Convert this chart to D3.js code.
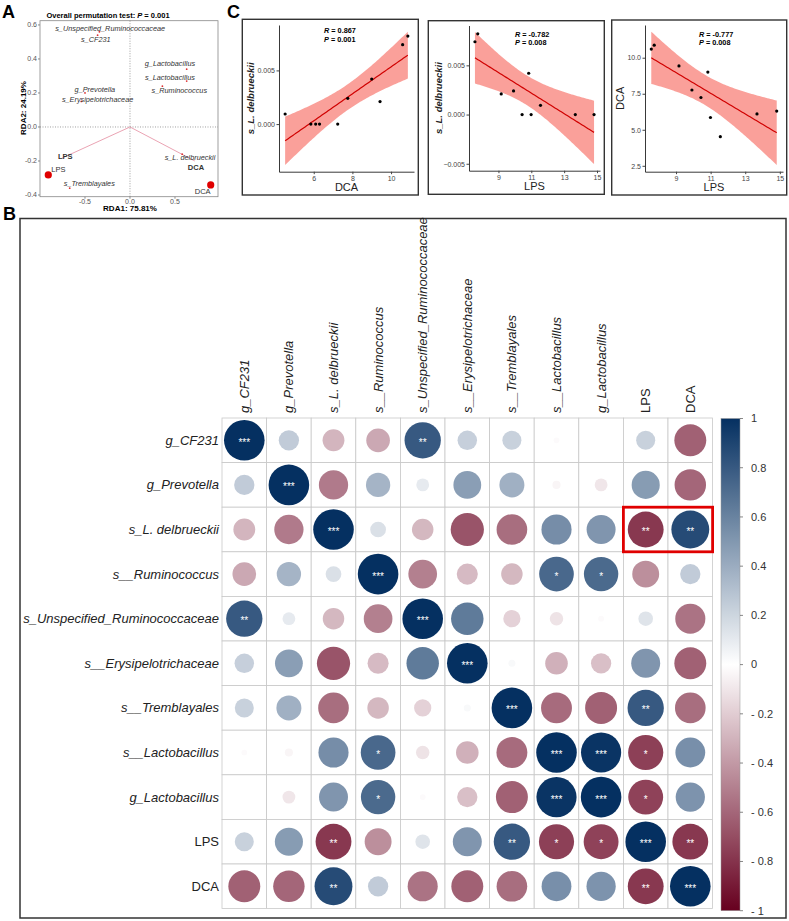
<!DOCTYPE html>
<html>
<head>
<meta charset="utf-8">
<script src="https://cdn.jsdelivr.net/npm/d3@7"></script>
<style>
body { margin: 0; background: #fff; }
text { font-family: "Liberation Sans", Arial, sans-serif; }
</style>
</head>
<body>
<script>
// ---------- data: panel A (RDA biplot) ----------
var rdaXTicks = [-0.5, 0, 0.5];
var rdaYTicks = [-0.4, -0.2, 0, 0.2, 0.4, 0.6];
var speciesNames = ["s_Unspecified_Ruminococcaceae", "s_CF231", "g_Lactobacillus", "s_Lactobacillus",
    "s_Ruminococcus", "g_Prevotella", "s_Erysipelotrichaceae", "s_L. delbrueckii", "s_Tremblayales"];
var speciesX = [-0.34, -0.36, 0.63, 0.63, 0.36, -0.50, -0.54, 0.58, -0.67];
var speciesY = [0.56, 0.54, 0.34, 0.27, 0.24, 0.20, 0.15, -0.16, -0.36];
var speciesLabelX = [-0.22, -0.38, 0.444, 0.444, 0.548, -0.39, -0.36, 0.667, -0.452];
var speciesLabelY = [0.58, 0.516, 0.375, 0.292, 0.212, 0.218, 0.159, -0.178, -0.331];
var envNames = ["LPS", "DCA"];
var envX = [-0.76, 0.72];
var envY = [-0.184, -0.20];
var envLabelX = [-0.72, 0.733];
var envLabelY = [-0.175, -0.24];
var siteNames = ["LPS", "DCA"];
var siteX = [-0.908, 0.897];
var siteY = [-0.282, -0.341];

// ---------- data: panel C (10 samples) ----------
var lps  = [7.57, 7.74, 9.17, 9.92, 10.44, 10.84, 10.99, 11.56, 13.68, 14.82];
var dca  = [10.60, 10.87, 9.43, 7.76, 7.24, 9.00, 5.85, 4.52, 6.10, 6.30];
var ldel = [0.0074, 0.0082, 0.0021, 0.0024, 0, 0.0042, 0, 0.00094, 0, 0];

// ---------- data: panel B (correlation matrix) ----------
var matLabels = ["g_CF231", "g_Prevotella", "s_L. delbrueckii", "s__Ruminococcus",
    "s_Unspecified_Ruminococcaceae", "s__Erysipelotrichaceae", "s__Tremblayales",
    "s__Lactobacillus", "g_Lactobacillus", "LPS", "DCA"];
var corr = [
    [ 1.00,  0.25, -0.29, -0.34,  0.80,  0.23,  0.22, -0.02,  0.00,  0.22, -0.62],
    [ 0.25,  1.00, -0.52,  0.36,  0.10,  0.47,  0.38, -0.04, -0.10,  0.48, -0.60],
    [-0.29, -0.52,  1.00,  0.15, -0.28, -0.67, -0.57,  0.55,  0.51, -0.78,  0.87],
    [-0.34,  0.36,  0.15,  1.00, -0.50, -0.27, -0.28,  0.73,  0.72, -0.44,  0.25],
    [ 0.80,  0.10, -0.28, -0.50,  1.00,  0.64, -0.18, -0.11, -0.02,  0.13, -0.55],
    [ 0.23,  0.47, -0.67, -0.27,  0.64,  1.00,  0.03, -0.31, -0.25,  0.51, -0.62],
    [ 0.22,  0.38, -0.57, -0.28, -0.18,  0.03,  1.00, -0.58, -0.62,  0.80, -0.57],
    [-0.02, -0.04,  0.55,  0.73, -0.11, -0.31, -0.58,  1.00,  0.98, -0.75,  0.54],
    [ 0.00, -0.10,  0.51,  0.72, -0.02, -0.25, -0.62,  0.98,  1.00, -0.74,  0.52],
    [ 0.22,  0.48, -0.78, -0.44,  0.13,  0.51,  0.80, -0.75, -0.74,  1.00, -0.78],
    [-0.62, -0.60,  0.87,  0.25, -0.55, -0.62, -0.57,  0.54,  0.52, -0.78,  1.00]
];
var sig = [
    [3,0,0,0,2,0,0,0,0,0,0],
    [0,3,0,0,0,0,0,0,0,0,0],
    [0,0,3,0,0,0,0,0,0,2,2],
    [0,0,0,3,0,0,0,1,1,0,0],
    [2,0,0,0,3,0,0,0,0,0,0],
    [0,0,0,0,0,3,0,0,0,0,0],
    [0,0,0,0,0,0,3,0,0,2,0],
    [0,0,0,1,0,0,0,3,3,1,0],
    [0,0,0,1,0,0,0,3,3,1,0],
    [0,0,2,0,0,0,2,1,1,3,2],
    [0,0,2,0,0,0,0,0,0,2,3]
];
var legendTicks = [1, 0.8, 0.6, 0.4, 0.2, 0, -0.2, -0.4, -0.6, -0.8, -1];
var highlightRow = 2;
var highlightCols = [9, 10];

var svg = d3.select("body").append("svg")
    .attr("width", 789)
    .attr("height", 921);

function panelLetter(txt, x, y) {
    svg.append("text").attr("x", x).attr("y", y)
        .attr("font-size", 18).attr("font-weight", "bold").text(txt);
}

// =============== A ===============
(function() {
    var x = d3.scaleLinear().domain([-1.0, 0.978]).range([40, 218]);
    var y = d3.scaleLinear().domain([-0.41, 0.625]).range([196.7, 20.7]);
    var g = svg.append("g");

    g.append("rect").attr("x", 40).attr("y", 20.7).attr("width", 178).attr("height", 176)
        .attr("fill", "none").attr("stroke", "#888").attr("stroke-width", 0.8);

    // zero lines
    g.append("line").attr("x1", x(0)).attr("x2", x(0)).attr("y1", 20.7).attr("y2", 196.7)
        .attr("stroke", "#777").attr("stroke-width", 0.7).attr("stroke-dasharray", "1,1.5");
    g.append("line").attr("x1", 40).attr("x2", 218).attr("y1", y(0)).attr("y2", y(0))
        .attr("stroke", "#777").attr("stroke-width", 0.7).attr("stroke-dasharray", "1,1.5");

    // ticks
    rdaYTicks.forEach(function(t) {
        g.append("line").attr("x1", 38).attr("x2", 40).attr("y1", y(t)).attr("y2", y(t)).attr("stroke", "#888");
        g.append("text").attr("x", 37).attr("y", y(t)).attr("dy", "0.35em").attr("text-anchor", "end")
            .attr("font-size", 7).attr("fill", "#555").text(t.toFixed(1));
    });
    rdaXTicks.forEach(function(t) {
        g.append("line").attr("x1", x(t)).attr("x2", x(t)).attr("y1", 196.7).attr("y2", 198.7).attr("stroke", "#888");
        g.append("text").attr("x", x(t)).attr("y", 204).attr("text-anchor", "middle")
            .attr("font-size", 7).attr("fill", "#555").text(t.toFixed(1));
    });

    g.append("text").attr("x", 130).attr("y", 211).attr("text-anchor", "middle")
        .attr("font-size", 8).attr("font-weight", "bold").text("RDA1: 75.81%");
    g.append("text").attr("transform", "translate(26,108) rotate(-90)").attr("text-anchor", "middle")
        .attr("font-size", 8).attr("font-weight", "bold").text("RDA2: 24.19%");

    var title = g.append("text").attr("x", 108).attr("y", 17.5).attr("text-anchor", "middle")
        .attr("font-size", 7.5).attr("font-weight", "bold");
    title.append("tspan").text("Overall permutation test:  ");
    title.append("tspan").attr("font-style", "italic").text("P");
    title.append("tspan").text(" = 0.001");

    // env arrows
    envNames.forEach(function(n, i) {
        g.append("line").attr("x1", x(0)).attr("y1", y(0)).attr("x2", x(envX[i])).attr("y2", y(envY[i]))
            .attr("stroke", "#e58ca0").attr("stroke-width", 0.8);
    });
    envNames.forEach(function(n, i) {
        g.append("text").attr("x", x(envLabelX[i])).attr("y", y(envLabelY[i])).attr("dy", "0.35em")
            .attr("text-anchor", "middle").attr("font-size", 7.5).attr("font-weight", "bold")
            .attr("fill", "#333").text(n);
    });

    // species
    speciesNames.forEach(function(n, i) {
        g.append("circle").attr("cx", x(speciesX[i])).attr("cy", y(speciesY[i])).attr("r", 0.9)
            .attr("fill", "#d33");
        g.append("text").attr("x", x(speciesLabelX[i])).attr("y", y(speciesLabelY[i])).attr("dy", "0.35em")
            .attr("text-anchor", "middle").attr("font-size", 7.3).attr("font-style", "italic")
            .attr("fill", "#333").text(n);
    });

    // sites
    siteNames.forEach(function(n, i) {
        g.append("circle").attr("cx", x(siteX[i])).attr("cy", y(siteY[i])).attr("r", 3.6)
            .attr("fill", "#e00000");
    });
    g.append("text").attr("x", x(siteX[0]) + 3).attr("y", y(siteY[0]) - 3)
        .attr("font-size", 7.5).attr("fill", "#333").text(siteNames[0]);
    g.append("text").attr("x", x(siteX[1]) - 8).attr("y", y(siteY[1]) + 9)
        .attr("text-anchor", "middle").attr("font-size", 7.5).attr("fill", "#333").text(siteNames[1]);
})();
panelLetter("A", 2, 18);

// =============== C ===============
function fitBand(xs, ys) {
    var n = xs.length;
    var mx = d3.mean(xs), my = d3.mean(ys);
    var sxx = d3.sum(xs, function(v) { return (v - mx) * (v - mx); });
    var sxy = d3.sum(xs, function(v, i) { return (v - mx) * (ys[i] - my); });
    var b = sxy / sxx, a = my - b * mx;
    var sse = d3.sum(xs, function(v, i) { var e = ys[i] - (a + b * v); return e * e; });
    var s = Math.sqrt(sse / (n - 2));
    var t = 2.306; // t(0.975, df = 8)
    var ext = d3.extent(xs);
    var pts = [];
    for (var k = 0; k <= 80; k++) {
        var xv = ext[0] + (ext[1] - ext[0]) * k / 80;
        var fit = a + b * xv;
        var se = s * Math.sqrt(1 / n + (xv - mx) * (xv - mx) / sxx);
        pts.push({x: xv, y: fit, lo: fit - t * se, hi: fit + t * se});
    }
    return pts;
}

function drawScatter(cfg) {
    var g = svg.append("g");
    g.append("rect").attr("x", cfg.box[0]).attr("y", cfg.box[1]).attr("width", cfg.box[2]).attr("height", cfg.box[3])
        .attr("fill", "#fff").attr("stroke", "#333").attr("stroke-width", 1.4);

    var band = fitBand(cfg.xs, cfg.ys);
    var yAll = cfg.ys.concat(band.map(function(d) { return d.lo; }), band.map(function(d) { return d.hi; }));
    var xe = d3.extent(cfg.xs), ye = d3.extent(yAll);
    var xp = (xe[1] - xe[0]) * 0.05, yp = (ye[1] - ye[0]) * 0.05;
    var x = d3.scaleLinear().domain([xe[0] - xp, xe[1] + xp]).range([cfg.left, cfg.right]);
    var y = d3.scaleLinear().domain([ye[0] - yp, ye[1] + yp]).range([cfg.bottom, cfg.top]);

    g.append("path").datum(band)
        .attr("d", d3.area().x(function(d) { return x(d.x); }).y0(function(d) { return y(d.lo); }).y1(function(d) { return y(d.hi); }))
        .attr("fill", "#f98f88").attr("opacity", 0.85);
    g.append("path").datum(band)
        .attr("d", d3.line().x(function(d) { return x(d.x); }).y(function(d) { return y(d.y); }))
        .attr("fill", "none").attr("stroke", "#d00000").attr("stroke-width", 1.2);

    g.selectAll(".pt").data(cfg.xs).enter().append("circle")
        .attr("cx", function(d) { return x(d); })
        .attr("cy", function(d, i) { return y(cfg.ys[i]); })
        .attr("r", 1.6).attr("fill", "#000");

    var xa = g.append("g").attr("transform", "translate(0," + cfg.bottom + ")")
        .call(d3.axisBottom(x).tickValues(cfg.xTicks).tickSize(2.5).tickSizeOuter(0).tickPadding(1.5)
            .tickFormat(d3.format("d")));
    var ya = g.append("g").attr("transform", "translate(" + cfg.left + ",0)")
        .call(d3.axisLeft(y).tickValues(cfg.yTicks).tickSize(2.5).tickSizeOuter(0).tickPadding(1.5)
            .tickFormat(d3.format(cfg.yFormat)));
    [xa, ya].forEach(function(a) {
        a.select(".domain").attr("stroke", "#222").attr("stroke-width", 0.9);
        a.selectAll(".tick line").attr("stroke", "#444");
        a.selectAll(".tick text").attr("font-size", 7).attr("fill", "#444")
            .attr("font-family", "Liberation Sans, Arial, sans-serif");
    });

    g.append("text").attr("x", (cfg.left + cfg.right) / 2).attr("y", cfg.box[1] + cfg.box[3] - 4)
        .attr("text-anchor", "middle").attr("font-size", 11).attr("fill", "#222").text(cfg.xLabel);
    g.append("text").attr("transform", "translate(" + (cfg.box[0] + cfg.yLabelDx) + "," + ((cfg.top + cfg.bottom) / 2) + ") rotate(-90)")
        .attr("text-anchor", "middle").attr("dy", "0.35em")
        .attr("font-size", cfg.yItalic ? 9.5 : 11).attr("font-style", cfg.yItalic ? "italic" : "normal")
        .attr("font-weight", cfg.yItalic ? "bold" : "normal").attr("fill", "#222").text(cfg.yLabel);

    var r = g.append("text").attr("x", cfg.statX).attr("y", cfg.statY).attr("font-size", 7.3).attr("font-weight", "bold");
    r.append("tspan").attr("font-style", "italic").text("R");
    r.append("tspan").text(" = " + cfg.rText);
    var p = g.append("text").attr("x", cfg.statX).attr("y", cfg.statY + 8.5).attr("font-size", 7.3).attr("font-weight", "bold");
    p.append("tspan").attr("font-style", "italic").text("P");
    p.append("tspan").text(" = " + cfg.pText);
}

drawScatter({box: [242.3, 19.3, 176, 175.7], left: 279, right: 414, top: 25, bottom: 171.7,
    xs: dca, ys: ldel, xTicks: [6, 8, 10], yTicks: [0, 0.005], yFormat: ".3f",
    xLabel: "DCA", yLabel: "s_L. delbrueckii", yItalic: true, yLabelDx: 8,
    statX: 324, statY: 33.3, rText: "0.867", pText: "0.001"});
drawScatter({box: [428.3, 20.7, 176, 173.6], left: 469, right: 600, top: 25.5, bottom: 170.7,
    xs: lps, ys: ldel, xTicks: [9, 11, 13, 15], yTicks: [-0.005, 0, 0.005], yFormat: ".3f",
    xLabel: "LPS", yLabel: "s_L. delbrueckii", yItalic: true, yLabelDx: 10,
    statX: 515, statY: 36.8, rText: "-0.782", pText: "0.008"});
drawScatter({box: [611.7, 20, 175, 175], left: 645, right: 783, top: 25, bottom: 171.7,
    xs: lps, ys: dca, xTicks: [9, 11, 13, 15], yTicks: [2.5, 5, 7.5, 10], yFormat: ".1f",
    xLabel: "LPS", yLabel: "DCA", yItalic: false, yLabelDx: 8,
    statX: 699, statY: 36.8, rText: "-0.777", pText: "0.008"});
panelLetter("C", 227, 18);

// =============== B ===============
(function() {
    var gx0 = 222, gx1 = 712.6, gy0 = 418, gy1 = 908.6;
    var idx = d3.range(matLabels.length);
    var xb = d3.scaleBand().domain(idx).range([gx0, gx1]);
    var yb = d3.scaleBand().domain(idx).range([gy0, gy1]);
    var bw = xb.bandwidth();
    var rad = d3.scaleSqrt().domain([0, 1]).range([0, bw * 0.455]);
    var col = d3.scaleLinear().domain([-1, 0, 1]).range(["#67001F", "#FFFFFF", "#053061"]);
    var g = svg.append("g");

    g.append("rect").attr("x", 20).attr("y", 218.5).attr("width", 766).attr("height", 699.5)
        .attr("fill", "none").attr("stroke", "#333").attr("stroke-width", 1.5);

    // grid
    idx.forEach(function(i) {
        idx.forEach(function(j) {
            g.append("rect").attr("x", xb(j)).attr("y", yb(i)).attr("width", bw).attr("height", bw)
                .attr("fill", "#fff").attr("stroke", "#c8c8c8").attr("stroke-width", 0.8);
        });
    });

    // circles
    var cells = [];
    corr.forEach(function(row, i) {
        row.forEach(function(v, j) { cells.push({i: i, j: j, v: v, s: sig[i][j]}); });
    });
    g.selectAll(".cell").data(cells).enter().append("circle")
        .attr("cx", function(d) { return xb(d.j) + bw / 2; })
        .attr("cy", function(d) { return yb(d.i) + bw / 2; })
        .attr("r", function(d) { return rad(Math.abs(d.v)); })
        .attr("fill", function(d) { return col(d.v); });
    g.selectAll(".star").data(cells.filter(function(d) { return d.s > 0; })).enter().append("text")
        .attr("x", function(d) { return xb(d.j) + bw / 2; })
        .attr("y", function(d) { return yb(d.i) + bw / 2 + 5.5; })
        .attr("text-anchor", "middle").attr("font-size", 10).attr("fill", "#fff")
        .text(function(d) { return "***".slice(0, d.s); });

    // highlight box
    g.append("rect").attr("x", xb(highlightCols[0])).attr("y", yb(highlightRow))
        .attr("width", bw * highlightCols.length).attr("height", bw)
        .attr("fill", "none").attr("stroke", "#e00000").attr("stroke-width", 2.8);

    // labels
    matLabels.forEach(function(n, i) {
        var it = (n === "LPS" || n === "DCA") ? "normal" : "italic";
        g.append("text").attr("x", gx0 - 3).attr("y", yb(i) + bw / 2).attr("dy", "0.35em")
            .attr("text-anchor", "end").attr("font-size", 13).attr("font-style", it)
            .attr("fill", "#222").text(n);
        g.append("text").attr("transform", "translate(" + (xb(i) + bw / 2) + "," + (gy0 - 5) + ") rotate(-90)")
            .attr("dy", "0.35em").attr("font-size", 13).attr("font-style", it)
            .attr("fill", "#222").text(n);
    });

    // colour legend
    var ly = d3.scaleLinear().domain([-1, 1]).range([910.7, 418.5]);
    var defs = svg.append("defs");
    var grad = defs.append("linearGradient").attr("id", "cbar")
        .attr("x1", 0).attr("y1", 1).attr("x2", 0).attr("y2", 0);
    d3.range(-1, 1.001, 0.1).forEach(function(v) {
        grad.append("stop").attr("offset", ((v + 1) / 2 * 100) + "%").attr("stop-color", col(v));
    });
    g.append("rect").attr("x", 721).attr("y", ly(1)).attr("width", 19).attr("height", ly(-1) - ly(1))
        .attr("fill", "url(#cbar)").attr("stroke", "#999").attr("stroke-width", 0.5);
    legendTicks.forEach(function(t) {
        g.append("line").attr("x1", 740).attr("x2", 743).attr("y1", ly(t)).attr("y2", ly(t))
            .attr("stroke", "#555").attr("stroke-width", 0.7);
        var lab = t < 0 ? "- " + Math.abs(t) : String(t);
        g.append("text").attr("x", 751).attr("y", ly(t)).attr("dy", "0.35em")
            .attr("font-size", 11).attr("fill", "#333").text(lab);
    });
})();
panelLetter("B", 3, 220);
</script>
</body>
</html>
